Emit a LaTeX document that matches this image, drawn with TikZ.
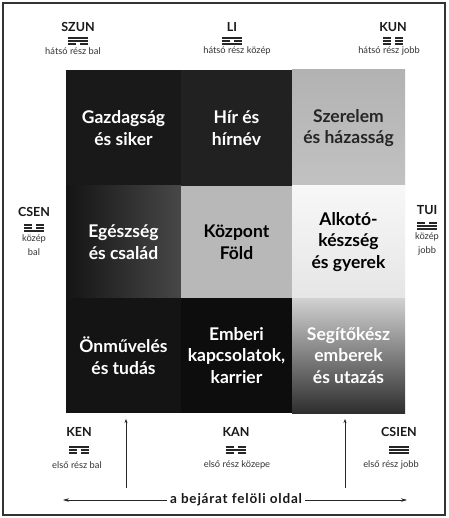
\documentclass[tikz,border=0pt]{standalone}
\usepackage{fontspec}
\setmainfont{Lato}
\usetikzlibrary{arrows.meta}
\newcommand\trline[2]{\ifnum#2=1 \fill[trig] (-10,#1-0.9) rectangle (10,#1+0.9);\else \fill[trig] (-10,#1-0.9) rectangle (-1.8,#1+0.9); \fill[trig] (1.8,#1-0.9) rectangle (10,#1+0.9);\fi}
\newcommand\trg[4]{\begin{scope}[shift={(#1)}]\trline{-3}{#2}\trline{0}{#3}\trline{3}{#4}\end{scope}}
\begin{document}
\begin{tikzpicture}[x=1pt,y=-1pt,
  trig/.style={black!85},
  cell/.style={inner sep=0pt,outer sep=0pt,align=center,
    font=\bfseries\fontsize{17.5}{21.5}\selectfont},
  dir/.style={inner sep=0pt,font=\bfseries\fontsize{12.5}{13}\selectfont,text=black!90},
  sub/.style={inner sep=0pt,align=center,font=\fontsize{9.3}{14}\selectfont,text=black!80},
  thin/.style={line width=0.6pt,black!85}]
\useasboundingbox (0,0) rectangle (448,518);
\fill[white] (0,0) rectangle (448,518);
\draw[line width=1.1pt,black!80] (3,3) rectangle (445,515);
% grid
\node[cell,minimum width=115pt,minimum height=116pt,fill=black!90,text=white] (c11) at (123.5,128) {Gazdagság\\és siker};
\node[cell,minimum width=111pt,minimum height=116pt,fill=black!87,text=white] (c12) at (236.5,128) {Hír és\\hírnév};
\node[cell,minimum width=113pt,minimum height=116pt,top color=black!30,bottom color=black!24,text=black!85] (c13) at (348.5,128) {Szerelem\\és házasság};
\node[cell,minimum width=115pt,minimum height=112pt,left color=black!92,right color=black!72,text=white] (c21) at (123.5,242) {Egészség\\és család};
\node[cell,minimum width=111pt,minimum height=112pt,fill=black!28,text=black] (c22) at (236.5,242) {Központ\\Föld};
\node[cell,minimum width=113pt,minimum height=112pt,top color=black!3,bottom color=black!10,text=black] (c23) at (348.5,242) {Alkotó-\\készség\\és gyerek};
\node[cell,minimum width=115pt,minimum height=115pt,fill=black!92,text=white] (c31) at (123.5,355.5) {Önművelés\\és tudás};
\node[cell,minimum width=111pt,minimum height=115pt,fill=black!95,text=white] (c32) at (236.5,355.5) {Emberi\\kapcsolatok,\\karrier};
\node[cell,minimum width=113pt,minimum height=115pt,shading angle=45,top color=black!18,bottom color=black!82,text=white] (c33) at (348.5,355.5) {Segítőkész\\emberek\\és utazás};
% top labels
\node[dir] (szun) at (78,27) {SZUN};
\coordinate (tszun) at (78,41); \trg{tszun}{1}{1}{0}
\node[sub] (szuns) at (73,51) {hátsó rész bal};
\node[dir] (li) at (232,27) {LI};
\coordinate (tli) at (232,41); \trg{tli}{1}{0}{1}
\node[sub] (lis) at (237,51) {hátsó rész közép};
\node[dir] (kun) at (393,27) {KUN};
\coordinate (tkun) at (393,41); \trg{tkun}{0}{0}{0}
\node[sub] (kuns) at (389,51) {hátsó rész jobb};
% side labels
\node[dir] (csen) at (34,212) {CSEN};
\coordinate (tcsen) at (34,228); \trg{tcsen}{0}{0}{1}
\node[sub] (csens) at (34,245) {közép\\bal};
\node[dir] (tui) at (427,210) {TUI};
\coordinate (ttui) at (427,226); \trg{ttui}{0}{1}{1}
\node[sub] (tuis) at (427,244) {közép\\jobb};
% bottom labels
\node[dir] (ken) at (79,432) {KEN};
\coordinate (tken) at (79,450); \trg{tken}{1}{0}{0}
\node[sub] (kens) at (77,465) {első rész bal};
\node[dir] (kan) at (236,432) {KAN};
\coordinate (tkan) at (236,450); \trg{tkan}{0}{1}{0}
\node[sub] (kans) at (237,465) {első rész közepe};
\node[dir] (csien) at (399,432) {CSIEN};
\coordinate (tcsien) at (399,450); \trg{tcsien}{1}{1}{1}
\node[sub] (csiens) at (391,465) {első rész jobb};
% entrance
\node[inner sep=3pt,font=\bfseries\fontsize{13.5}{15}\selectfont\addfontfeatures{LetterSpace=6},text=black!90] (entr) at (236,500) {a bejárat felöli oldal};
\coordinate (al) at (63,500);
\coordinate (ar) at (407,500);
\draw[thin,-{Stealth[length=6pt,width=3.5pt]}] (entr.west) -- (al);
\draw[thin,-{Stealth[length=6pt,width=3.5pt]}] (entr.east) -- (ar);
\coordinate (v1a) at (126,488); \coordinate (v1b) at (126,419);
\coordinate (v2a) at (345,488); \coordinate (v2b) at (345,419);
\draw[thin,-{Stealth[length=4pt,width=3pt]}] (v1a) -- (v1b);
\draw[thin,-{Stealth[length=4pt,width=3pt]}] (v2a) -- (v2b);
\end{tikzpicture}
\end{document}
